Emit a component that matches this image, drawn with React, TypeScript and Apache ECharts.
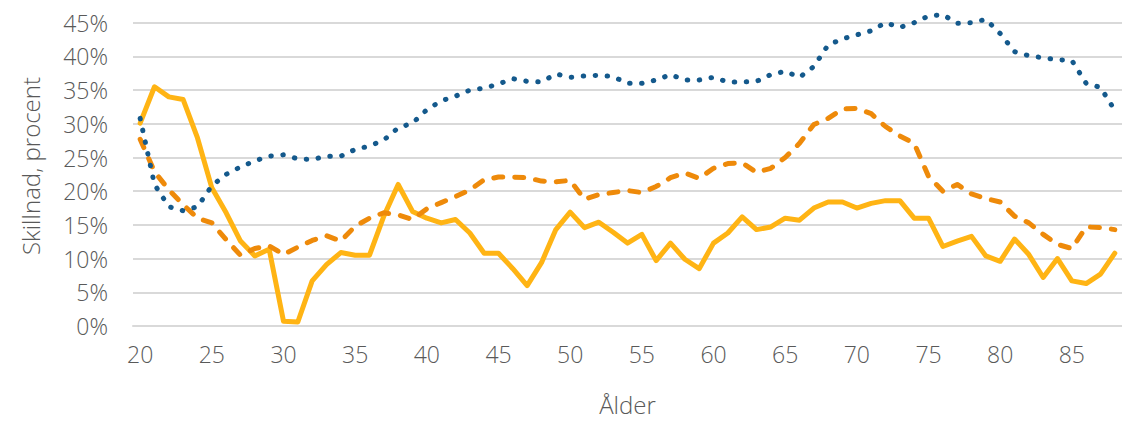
import React, { useEffect, useRef } from "react";
import * as echarts from "echarts";

const ages: string[] = [];
for (let a = 20; a <= 88; a++) ages.push(String(a));

const yTicks = [0, 5, 10, 15, 20, 25, 30, 35, 40, 45];

const solidYellow = [
  30.1, 35.5, 34.0, 33.6, 27.9, 20.5, 16.8, 12.6, 10.4, 11.4,
  0.7, 0.6, 6.7, 9.1, 10.9, 10.5, 10.5, 16.3, 21.0, 17.0,
  16.0, 15.3, 15.8, 13.8, 10.8, 10.8, 8.5, 6.0, 9.4, 14.3,
  16.9, 14.6, 15.4, 13.9, 12.3, 13.6, 9.7, 12.3, 9.9, 8.5,
  12.3, 13.8, 16.2, 14.3, 14.7, 16.0, 15.7, 17.5, 18.4, 18.4,
  17.5, 18.2, 18.6, 18.6, 16.0, 16.0, 11.8, 12.6, 13.3, 10.4,
  9.6, 12.9, 10.6, 7.2, 10.0, 6.7, 6.3, 7.7, 10.8,
];

const dashedOrange = [
  27.7, 22.9, 20.2, 18.0, 16.0, 15.3, 12.8, 10.5, 11.5, 11.9,
  10.6, 11.7, 12.7, 13.4, 12.6, 14.8, 16.0, 16.8, 16.5, 15.8,
  17.4, 18.3, 19.2, 20.2, 21.7, 22.1, 22.1, 22.0, 21.5, 21.4,
  21.6, 18.8, 19.5, 19.8, 20.1, 19.8, 20.7, 22.0, 22.7, 21.9,
  23.4, 24.1, 24.2, 22.8, 23.4, 25.0, 27.1, 29.9, 30.8, 32.2,
  32.3, 31.5, 29.6, 28.2, 27.1, 22.2, 20.0, 21.0, 19.6, 18.9,
  18.4, 16.3, 15.3, 13.6, 12.1, 11.5, 14.7, 14.6, 14.3,
];

const dottedBlue = [
  30.8, 21.0, 17.7, 17.1, 17.7, 20.8, 22.5, 23.6, 24.5, 25.2,
  25.4, 24.8, 24.7, 25.2, 25.2, 26.2, 26.7, 27.6, 29.4, 30.1,
  32.1, 33.4, 34.1, 35.0, 35.3, 35.9, 36.7, 36.3, 36.2, 37.4,
  36.9, 37.1, 37.2, 37.0, 36.0, 36.0, 36.5, 37.3, 36.5, 36.5,
  36.9, 36.2, 36.2, 36.3, 37.3, 37.8, 36.9, 38.5, 41.7, 42.6,
  43.2, 43.8, 45.0, 44.3, 45.0, 46.0, 46.2, 44.9, 45.0, 45.5,
  43.4, 40.7, 40.1, 39.8, 39.5, 39.4, 36.0, 35.4, 32.0,
];

const FONT = "'Open Sans', 'DejaVu Sans', sans-serif";
const TEXT = "#595959";

export default function App() {
  const ref = useRef<HTMLDivElement>(null);
  useEffect(() => {
    if (!ref.current) return;
    const chart = echarts.init(ref.current, undefined, { renderer: "svg" });
    chart.setOption({
      animation: false,
      backgroundColor: "#ffffff",
      textStyle: { fontFamily: FONT },
      grid: { left: 133, top: 22.7, width: 1002, height: 304, containLabel: false },
      xAxis: {
        type: "category",
        data: ages,
        boundaryGap: true,
        axisLine: { show: true, lineStyle: { color: "#d9d9d9", width: 2 } },
        axisTick: { show: false },
        axisLabel: {
          interval: (i: number) => i % 5 === 0,
          margin: 16,
          fontSize: 23,
          color: TEXT,
          fontFamily: FONT,
          fontWeight: 300,
        },
        splitLine: { show: false },
        name: "Ålder",
        nameLocation: "middle",
        nameGap: 66,
        nameTextStyle: { fontSize: 24, color: TEXT, fontFamily: FONT, fontWeight: 300 },
      },
      yAxis: {
        type: "value",
        min: yTicks[0],
        max: yTicks[yTicks.length - 1],
        interval: 5,
        axisLine: { show: false },
        axisTick: { show: false },
        axisLabel: {
          formatter: "{value}%",
          margin: 25,
          fontSize: 23,
          color: TEXT,
          fontFamily: FONT,
          fontWeight: 300,
        },
        splitLine: { show: true, lineStyle: { color: "#d9d9d9", width: 2 } },
      },
      graphic: [
        {
          type: "text",
          x: 30,
          y: 166,
          rotation: Math.PI / 2,
          style: {
            text: "Skillnad, procent",
            fontSize: 24,
            fontFamily: FONT,
            fontWeight: 300,
            fill: TEXT,
            align: "center",
            verticalAlign: "middle",
          },
        },
      ],
      series: [
        {
          name: "Solid",
          type: "line",
          data: solidYellow,
          showSymbol: false,
          clip: false,
          lineStyle: { color: "#ffb414", width: 5, join: "round", cap: "round" },
          z: 2,
        },
        {
          name: "Dashed",
          type: "line",
          data: dashedOrange,
          showSymbol: false,
          clip: false,
          lineStyle: { color: "#ee8a0a", width: 5, type: [9, 12], cap: "round", join: "round" },
          z: 3,
        },
        {
          name: "Dotted",
          type: "line",
          data: dottedBlue,
          showSymbol: false,
          clip: false,
          lineStyle: { color: "#14598c", width: 5, type: [0.5, 11.5], cap: "round", join: "round" },
          z: 4,
        },
      ],
    });
    return () => chart.dispose();
  }, []);
  return (
    <div
      ref={ref}
      style={{ position: "absolute", left: 0, top: 0, width: 1122, height: 421, overflow: "hidden" }}
    />
  );
}
